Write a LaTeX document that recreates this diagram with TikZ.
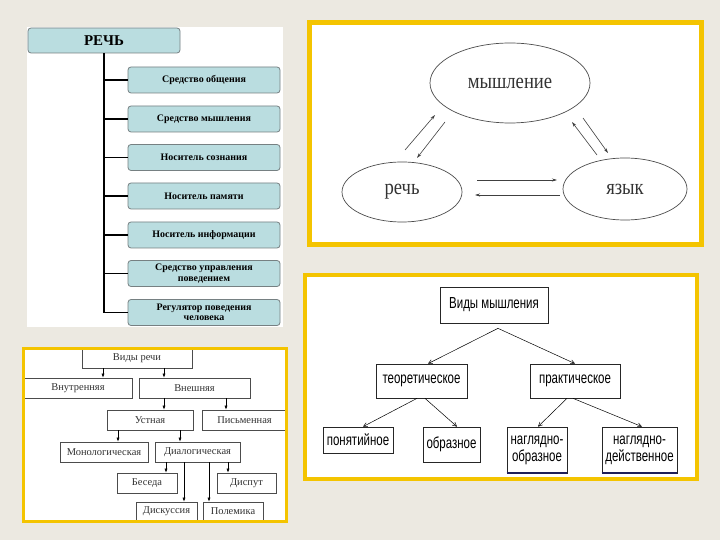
\documentclass[tikz,border=0pt]{standalone}
\usepackage{fontspec}
\setmainfont{Liberation Serif}
\newfontfamily\narrowsans[FakeStretch=0.72]{Liberation Sans}
\newfontfamily\narrowserif[FakeStretch=0.85]{Liberation Serif}
\usetikzlibrary{arrows.meta,shapes.geometric}
\definecolor{slidebg}{RGB}{236,233,225}
\definecolor{frameyellow}{RGB}{244,196,0}
\definecolor{boxblue}{RGB}{186,221,224}
\definecolor{boxedge}{RGB}{118,128,130}
\definecolor{navyline}{RGB}{30,30,90}

\begin{document}
\begin{tikzpicture}[x=1bp, y=-1bp, >=Latex,
  func/.style={draw=boxedge, fill=boxblue, rounded corners=3bp, line width=0.8bp,
    minimum width=152bp, minimum height=26bp, inner sep=0pt, align=center,
    font=\fontsize{10}{10.5}\selectfont\bfseries},
  oval/.style={ellipse, draw=black!70, line width=0.7bp, inner sep=0pt,
    font=\narrowserif\fontsize{22}{24}\selectfont, text=black!80},
  tri/.style={->, >={Stealth[length=5bp,width=3bp]}, line width=0.6bp, black!75},
  sbox/.style={draw=black!70, line width=0.6bp, inner sep=0pt, minimum height=20bp,
    font=\fontsize{10.5}{12}\selectfont, text=black!80},
  sarr/.style={->, >={Latex[length=4bp,width=3bp]}, line width=0.5bp},
  tbox/.style={draw=black!85, line width=0.7bp, inner sep=0pt, align=center,
    font=\narrowsans\fontsize{16}{17}\selectfont},
  tarr/.style={->, >={Straight Barb[length=4bp,width=4bp]}, line width=0.5bp},
  yframe/.style={draw=frameyellow}]
% slide
\fill[slidebg] (0,0) rectangle (720,540);
\useasboundingbox (0,0) rectangle (720,540);

% functions of speech
\fill[white] (27,27) rectangle (283,327);
\node[func, minimum height=25bp, font=\fontsize{15}{16}\selectfont\bfseries] (rech0) at (104,40.5) {РЕЧЬ};
\node[func] (f1) at (204,80) {Средство общения};
\node[func] (f2) at (204,119) {Средство мышления};
\node[func] (f3) at (204,157.5) {Носитель сознания};
\node[func] (f4) at (204,196) {Носитель памяти};
\node[func] (f5) at (204,235) {Носитель информации};
\node[func] (f6) at (204,273.5) {Средство управления\\поведением};
\node[func] (f7) at (204,312.5) {Регулятор поведения\\человека};
\draw[line width=1.6bp] (rech0.south) -- (rech0.south |- f7.west);
\foreach \n in {1,...,7}
  \draw[line width=1.2bp] (rech0.south |- f\n.west) -- (f\n.west);

% thinking -- speech -- language
\fill[white] (309.5,22.5) rectangle (701,245);
\node[oval, minimum width=160bp, minimum height=80bp] (mysl) at (510,83) {мышление};
\node[oval, minimum width=120bp, minimum height=60bp] (rech) at (402,192) {речь};
\node[oval, minimum width=124bp, minimum height=62bp] (yaz) at (625,189) {язык};
\draw[tri] ([shift={(3,-42)}]rech.center) -- ([shift={(-75,32)}]mysl.center);
\draw[tri] ([shift={(-65,39)}]mysl.center) -- ([shift={(15,-34)}]rech.center);
\draw[tri] ([shift={(-28,-34)}]yaz.center) -- ([shift={(62,39)}]mysl.center);
\draw[tri] ([shift={(73,35)}]mysl.center) -- ([shift={(-17,-36)}]yaz.center);
\draw[tri] ([shift={(75,-12)}]rech.center) -- ([shift={(-68,-9)}]yaz.center);
\draw[tri] ([shift={(-65,6)}]yaz.center) -- ([shift={(73,3)}]rech.center);
\draw[yframe, line width=5bp] (309.5,22.5) rectangle (701,245);

% kinds of speech
\fill[white] (23.5,348.5) rectangle (286.5,521.5);
\node[sbox, minimum width=110bp, minimum height=19bp] (vidy) at (137,358.5) {Виды речи};
\node[sbox, minimum width=108bp] (vnutr) at (78,388) {Внутренняя};
\node[sbox, minimum width=111bp] (vnesh) at (194.5,388) {Внешняя};
\node[sbox, minimum width=86bp] (ustn) at (150,420) {Устная};
\node[sbox, minimum width=85bp] (pism) at (244.5,420) {Письменная};
\node[sbox, minimum width=88bp] (monol) at (104,452) {Монологическая};
\node[sbox, minimum width=85bp] (dial) at (197.5,452) {Диалогическая};
\node[sbox, minimum width=60bp] (beseda) at (147,483) {Беседа};
\node[sbox, minimum width=59bp] (disput) at (246.5,483) {Диспут};
\node[sbox, minimum width=61bp, minimum height=19bp] (diskus) at (166.5,511.5) {Дискуссия};
\node[sbox, minimum width=60bp, minimum height=19bp] (polem) at (233,511.5) {Полемика};
\draw[sarr] ([xshift=-34bp]vidy.south) -- ([xshift=-34bp]vidy.south |- vnutr.north);
\draw[sarr] ([xshift=27bp]vidy.south) -- ([xshift=27bp]vidy.south |- vnesh.north);
\draw[sarr] ([xshift=-30.5bp]vnesh.south) -- ([xshift=-30.5bp]vnesh.south |- ustn.north);
\draw[sarr] ([xshift=31.5bp]vnesh.south) -- ([xshift=31.5bp]vnesh.south |- pism.north);
\draw[sarr] ([xshift=-32bp]ustn.south) -- ([xshift=-32bp]ustn.south |- monol.north);
\draw[sarr] ([xshift=30bp]ustn.south) -- ([xshift=30bp]ustn.south |- dial.north);
\draw[sarr] ([xshift=-31.5bp]dial.south) -- ([xshift=-31.5bp]dial.south |- beseda.north);
\draw[sarr] ([xshift=-13.5bp]dial.south) -- ([xshift=-13.5bp]dial.south |- diskus.north);
\draw[sarr] ([xshift=11.5bp]dial.south) -- ([xshift=11.5bp]dial.south |- polem.north);
\draw[sarr] ([xshift=30.5bp]dial.south) -- ([xshift=30.5bp]dial.south |- disput.north);
\draw[yframe, line width=3bp] (23.5,348.5) rectangle (286.5,521.5);

% kinds of thinking
\fill[white] (305,275) rectangle (697,478.5);
\node[tbox, minimum width=108bp, minimum height=36bp] (vm) at (494,305) {Виды мышления};
\node[tbox, minimum width=91bp, minimum height=34bp] (teor) at (421.5,381) {теоретическое};
\node[tbox, minimum width=90bp, minimum height=34bp] (prakt) at (575,381) {практическое};
\node[tbox, minimum width=70bp, minimum height=26bp] (ponyat) at (358,440) {понятийное};
\node[tbox, minimum width=57bp, minimum height=35bp] (obraz) at (451.5,444.5) {образное};
\node[tbox, minimum width=60bp, minimum height=46bp] (naglobr) at (537,450) {наглядно-\\образное};
\node[tbox, minimum width=75bp, minimum height=46bp] (nagldey) at (639.5,450) {наглядно-\\действенное};
\draw[navyline, line width=2bp] (naglobr.south west) -- (naglobr.south east);
\draw[navyline, line width=2bp] (nagldey.south west) -- (nagldey.south east);
\coordinate (vmtip) at ([shift={(4,5)}]vm.south);
\draw[tarr] (vmtip) -- ([xshift=6.5bp]teor.north);
\draw[tarr] (vmtip) -- (prakt.north);
\draw[tarr] ([xshift=-4.5bp]teor.south) -- ([xshift=5bp]ponyat.north);
\draw[tarr] ([xshift=3.5bp]teor.south) -- ([xshift=5.5bp]obraz.north);
\draw[tarr] ([xshift=-8bp]prakt.south) -- ([xshift=1bp]naglobr.north);
\draw[tarr] ([xshift=-2bp]prakt.south) -- ([xshift=2.5bp]nagldey.north);
\draw[yframe, line width=4bp] (305,275) rectangle (697,478.5);
\end{tikzpicture}
\end{document}
